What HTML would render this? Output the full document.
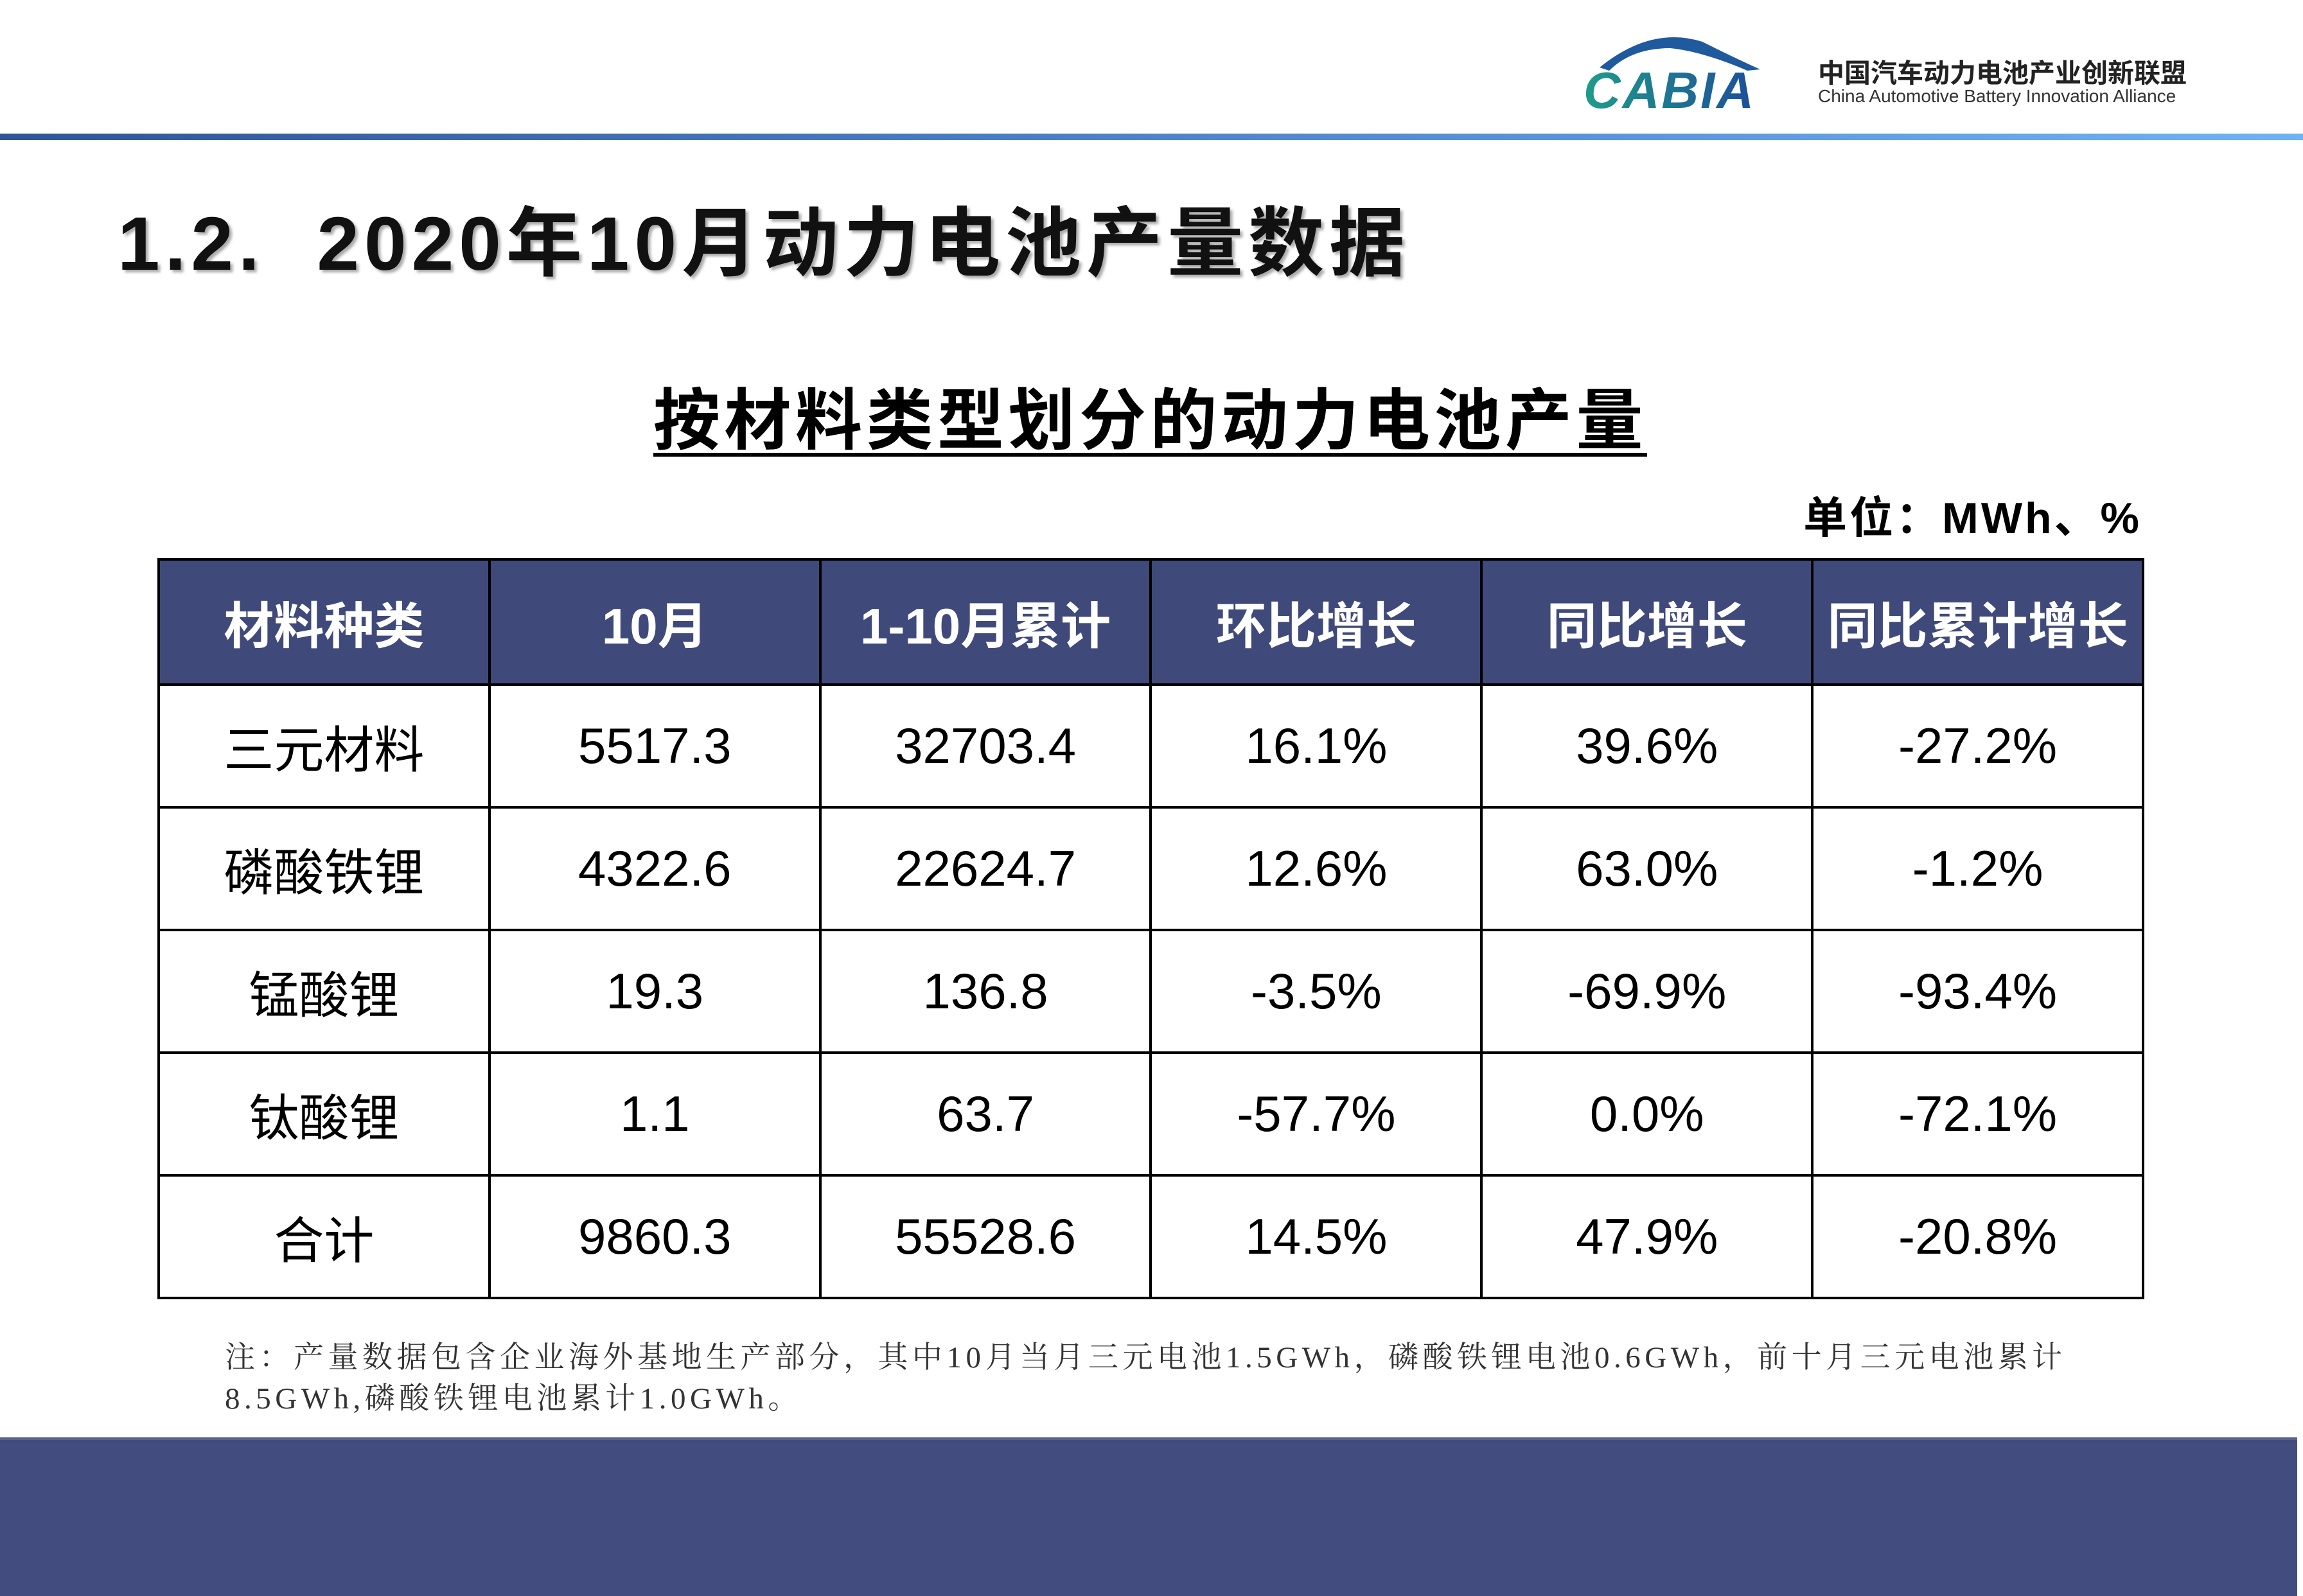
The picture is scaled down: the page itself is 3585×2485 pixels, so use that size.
<!DOCTYPE html>
<html><head><meta charset="utf-8"><style>
body{margin:0;width:3585px;height:2481px;background:#fff;position:relative;overflow:hidden;font-family:"Liberation Sans","Noto Sans CJK SC",sans-serif;}
.abs{position:absolute;white-space:nowrap;}
table{position:absolute;left:245px;top:869px;border-collapse:collapse;table-layout:fixed;width:3093px;}
td{border:4px solid #000;height:187px;text-align:center;font-size:78px;color:#000;padding:0;}
tr.h td{background:#3f4a7b;color:#fff;font-weight:bold;}
td{font-family:"Liberation Sans","Noto Sans CJK SC",sans-serif;}
</style></head><body>
<div class="abs" style="left:0;top:208px;width:3585px;height:10px;background:linear-gradient(90deg,#2f5597,#5a95dc 70%,#6fb2f2);"></div>
<svg class="abs" style="left:2450px;top:50px" width="300" height="130" viewBox="0 0 300 130">
<defs><linearGradient id="g" x1="0" x2="1"><stop offset="0" stop-color="#1f9c8a"/><stop offset="1" stop-color="#1d4f9a"/></linearGradient></defs>
<path d="M40 55 Q120 -10 200 15 Q250 40 290 58 L270 60 Q200 30 150 25 Q90 25 55 60 Z" fill="#205a9e"/>
<text x="15" y="118" font-family="Liberation Sans" font-style="italic" font-weight="bold" font-size="80" fill="url(#g)" textLength="265">CABIA</text>
</svg>
<div class="abs" style="left:2830px;top:80px;font-size:41px;font-weight:bold;color:#222;">中国汽车动力电池产业创新联盟</div>
<div class="abs" style="left:2830px;top:134px;font-size:28px;color:#333;">China Automotive Battery Innovation Alliance</div>
<div class="abs" style="left:183px;top:283px;font-size:118px;font-weight:bold;color:#111;letter-spacing:8px;text-shadow:4px 4px 4px #aaa;">1.2.&nbsp; 2020年10月动力电池产量数据</div>
<div class="abs" style="left:1017px;top:570px;font-size:104px;font-weight:bold;color:#000;letter-spacing:6.5px;text-decoration:underline;text-underline-offset:14px;text-decoration-thickness:6px;">按材料类型划分的动力电池产量</div>
<div class="abs" style="right:251px;top:751px;font-size:68px;font-weight:bold;color:#000;letter-spacing:4px;">单位：MWh、%</div>
<table>
<tr class="h" style="height:195px"><td>材料种类</td><td>10月</td><td>1-10月累计</td><td>环比增长</td><td>同比增长</td><td>同比累计增长</td></tr>
<tr><td>三元材料</td><td>5517.3</td><td>32703.4</td><td>16.1%</td><td>39.6%</td><td>-27.2%</td></tr>
<tr><td>磷酸铁锂</td><td>4322.6</td><td>22624.7</td><td>12.6%</td><td>63.0%</td><td>-1.2%</td></tr>
<tr><td>锰酸锂</td><td>19.3</td><td>136.8</td><td>-3.5%</td><td>-69.9%</td><td>-93.4%</td></tr>
<tr><td>钛酸锂</td><td>1.1</td><td>63.7</td><td>-57.7%</td><td>0.0%</td><td>-72.1%</td></tr>
<tr><td>合计</td><td>9860.3</td><td>55528.6</td><td>14.5%</td><td>47.9%</td><td>-20.8%</td></tr>
</table>
<div class="abs" style="left:350px;top:2082px;font-size:47px;color:#333;font-family:'Liberation Serif','Noto Serif CJK SC',serif;letter-spacing:6.5px;line-height:64px;">注：产量数据包含企业海外基地生产部分，其中10月当月三元电池1.5GWh，磷酸铁锂电池0.6GWh，前十月三元电池累计<br>8.5GWh,磷酸铁锂电池累计1.0GWh。</div>
<div class="abs" style="left:0;top:2238px;width:3576px;height:243px;background:#424c7e;border-top:4px solid #5a6290;"></div>
</body></html>
